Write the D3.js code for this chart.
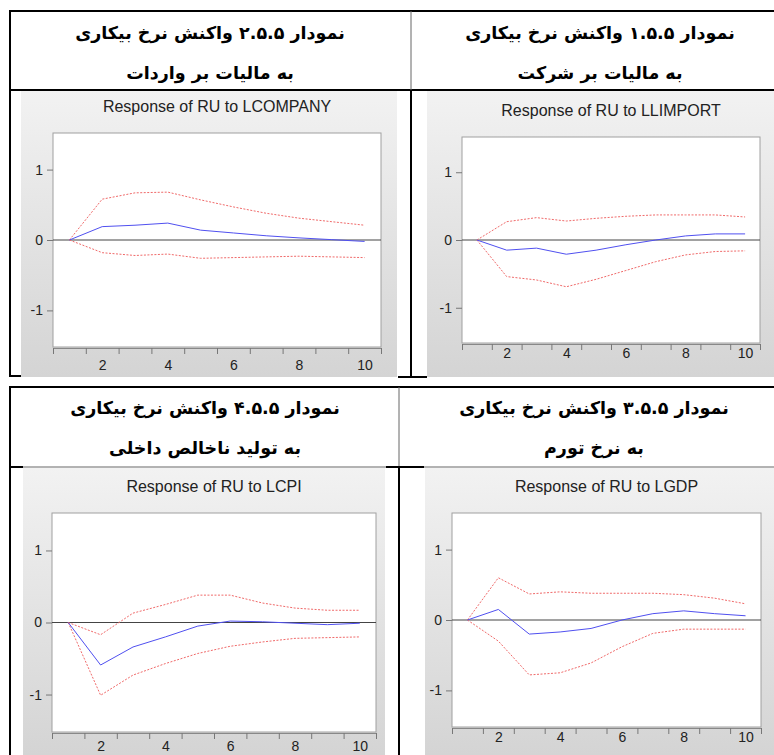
<!DOCTYPE html>
<html>
<head>
<meta charset="utf-8">
<script src="https://cdn.jsdelivr.net/npm/d3@7"></script>
<style>
  body { margin: 0; background: #fff; }
  svg { display: block; }
</style>
</head>
<body>
<div id="chart"></div>
<script>
// periods and tick labels
const periods = [1, 2, 3, 4, 5, 6, 7, 8, 9, 10];
const xTickLabels = [2, 4, 6, 8, 10];
const yTicks = [-1, 0, 1];

// response of RU to each shock (point estimate, upper band, lower band)
const companyResp = [0, 0.19, 0.21, 0.24, 0.14, 0.10, 0.06, 0.03, 0.005, -0.02];
const companyUpper = [0, 0.58, 0.67, 0.68, 0.57, 0.47, 0.38, 0.31, 0.26, 0.21];
const companyLower = [0, -0.18, -0.22, -0.20, -0.26, -0.25, -0.24, -0.23, -0.24, -0.25];

const importResp = [0, -0.15, -0.12, -0.21, -0.15, -0.07, 0.0, 0.06, 0.09, 0.09];
const importUpper = [0, 0.27, 0.33, 0.28, 0.32, 0.35, 0.37, 0.37, 0.37, 0.34];
const importLower = [0, -0.54, -0.59, -0.69, -0.58, -0.45, -0.32, -0.22, -0.17, -0.16];

const cpiResp = [0, -0.59, -0.34, -0.20, -0.05, 0.02, 0.01, -0.01, -0.03, -0.01];
const cpiUpper = [0, -0.17, 0.13, 0.25, 0.38, 0.38, 0.27, 0.20, 0.17, 0.17];
const cpiLower = [0, -1.01, -0.73, -0.57, -0.43, -0.33, -0.27, -0.22, -0.21, -0.20];

const gdpResp = [0, 0.15, -0.20, -0.17, -0.12, 0.0, 0.09, 0.13, 0.09, 0.06];
const gdpUpper = [0, 0.60, 0.37, 0.40, 0.38, 0.38, 0.38, 0.36, 0.31, 0.23];
const gdpLower = [0, -0.30, -0.78, -0.75, -0.61, -0.38, -0.19, -0.13, -0.13, -0.13];

const chartTitles = ["Response of RU to LCOMPANY", "Response of RU to LLIMPORT",
  "Response of RU to LCPI", "Response of RU to LGDP"];
const headLine1 = ["نمودار ۲.۵.۵ واکنش نرخ بیکاری", "نمودار ۱.۵.۵ واکنش نرخ بیکاری",
  "نمودار ۴.۵.۵ واکنش نرخ بیکاری", "نمودار ۳.۵.۵ واکنش نرخ بیکاری"];
const headLine2 = ["به مالیات بر واردات", "به مالیات بر شرکت",
  "به تولید ناخالص داخلی", "به نرخ تورم"];

const W = 774, H = 755;
const svg = d3.select("#chart").append("svg").attr("width", W).attr("height", H);

const grad = svg.append("defs").append("linearGradient")
  .attr("id", "bg").attr("x1", 0).attr("y1", 0).attr("x2", 0).attr("y2", 1);
grad.append("stop").attr("offset", "0%").attr("stop-color", "#f2f2f2");
grad.append("stop").attr("offset", "100%").attr("stop-color", "#d4d4d4");

// layout of the 4 pasted graphs
const panels = [
  { resp: companyResp, up: companyUpper, lo: companyLower, bg: [21, 91, 376, 286], plot: [53, 381, 133, 347], lab: 18, hx: 210, hy: 33 },
  { resp: importResp, up: importUpper, lo: importLower, bg: [427, 91, 347, 286], plot: [462, 760, 137, 343], lab: 10, hx: 600, hy: 33 },
  { resp: cpiResp, up: cpiUpper, lo: cpiLower, bg: [23, 468, 362, 287], plot: [52, 376, 513, 732], lab: 14, hx: 205, hy: 408 },
  { resp: gdpResp, up: gdpUpper, lo: gdpLower, bg: [425, 468, 349, 287], plot: [452, 761, 513, 727], lab: 10, hx: 594, hy: 408 }
];

panels.forEach((p, i) => {
  const [x0, x1, y0, y1] = p.plot;
  const g = svg.append("g");

  g.append("rect").attr("x", p.bg[0]).attr("y", p.bg[1])
    .attr("width", p.bg[2]).attr("height", p.bg[3]).attr("fill", "url(#bg)");

  const x = d3.scaleLinear().domain([0.5, 10.5]).range([x0, x1]);
  const y = d3.scaleLinear().domain([-1.52, 1.52]).range([y1, y0]);

  g.append("rect").attr("x", x0).attr("y", y0)
    .attr("width", x1 - x0).attr("height", y1 - y0)
    .attr("fill", "#fff").attr("stroke", "#a0a0a0");

  g.append("text").attr("x", (x0 + x1) / 2).attr("y", y0 - 27).attr("dy", "0.35em")
    .attr("text-anchor", "middle").attr("font-family", "Liberation Sans, Arial, sans-serif")
    .attr("font-size", 16).attr("fill", "#222").text(chartTitles[i]);

  // y axis
  const ya = g.append("g").attr("transform", `translate(${x0},0)`)
    .call(d3.axisLeft(y).tickValues(yTicks).tickSize(6).tickPadding(4).tickFormat(d => String(d)));
  ya.select(".domain").remove();
  ya.selectAll("line").attr("stroke", "#777");
  ya.selectAll("text").attr("font-family", "Liberation Sans, Arial, sans-serif")
    .attr("font-size", 14).attr("fill", "#222");

  // x axis: ticks at period boundaries, labels centred on periods
  const xa = g.append("g").attr("transform", `translate(0,${y1 + 1})`)
    .call(d3.axisBottom(x).tickValues(d3.range(0.5, 11, 1)).tickSize(6).tickFormat(""));
  xa.select(".domain").attr("stroke", "#888");
  xa.selectAll("line").attr("stroke", "#777");

  const xl = g.append("g").attr("transform", `translate(0,${y1 + p.lab})`)
    .call(d3.axisBottom(x).tickValues(xTickLabels).tickSize(0).tickPadding(0));
  xl.select(".domain").remove();
  xl.selectAll("text").attr("dy", "0.35em").attr("font-family", "Liberation Sans, Arial, sans-serif")
    .attr("font-size", 14).attr("fill", "#222");

  g.append("line").attr("x1", x0).attr("x2", x1).attr("y1", y(0)).attr("y2", y(0))
    .attr("stroke", "#444").attr("stroke-width", 1);

  const line = d3.line().x((d, k) => x(periods[k])).y(d => y(d));

  g.append("path").datum(p.up).attr("d", line).attr("fill", "none")
    .attr("stroke", "#f06a6a").attr("stroke-width", 1).attr("stroke-dasharray", "2,1.5");
  g.append("path").datum(p.lo).attr("d", line).attr("fill", "none")
    .attr("stroke", "#f06a6a").attr("stroke-width", 1).attr("stroke-dasharray", "2,1.5");
  g.append("path").datum(p.resp).attr("d", line).attr("fill", "none")
    .attr("stroke", "#5050f0").attr("stroke-width", 1);

  // Persian header
  const ht = g.append("g").attr("font-family", "DejaVu Sans, sans-serif")
    .attr("font-weight", "bold").attr("font-size", 17.5).attr("fill", "#000")
    .attr("text-anchor", "middle").attr("direction", "rtl");
  ht.append("text").attr("x", p.hx).attr("y", p.hy).attr("dy", "0.35em").text(headLine1[i]);
  ht.append("text").attr("x", p.hx).attr("y", p.hy + 40).attr("dy", "0.35em").text(headLine2[i]);
});

// table rules
const rule = (x1, y1, x2, y2, w, c) => svg.append("line")
  .attr("x1", x1).attr("y1", y1).attr("x2", x2).attr("y2", y2)
  .attr("stroke", c || "#000").attr("stroke-width", w || 2);

rule(9, 11, 774, 11);
rule(10, 11, 10, 377);
rule(10, 90, 774, 90);
rule(411, 11, 411, 90, 1, "#666");
rule(411, 90, 411, 377);
rule(9, 376, 21, 376);
rule(398, 377, 427, 377);

rule(9, 387, 774, 387);
rule(10, 387, 10, 755);
rule(10, 467, 774, 467, 1, "#666");
rule(9, 467, 23, 467);
rule(399, 387, 399, 467, 1, "#666");
rule(399, 467, 399, 755);
rule(386, 467, 424, 467);
</script>
</body>
</html>
